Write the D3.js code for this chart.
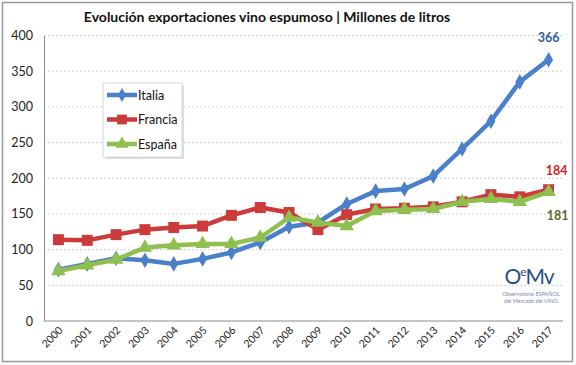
<!DOCTYPE html>
<html><head><meta charset="utf-8">
<script src="https://cdn.jsdelivr.net/npm/d3@7"></script>
<style>body{margin:0;background:#fff}svg{display:block}</style>
</head><body>
<svg id="c" width="576" height="365"></svg>
<script>
const years = ["2000","2001","2002","2003","2004","2005","2006","2007","2008","2009","2010","2011","2012","2013","2014","2015","2016","2017"];
const italia  = [72,80,88,85,80,87,96,110,132,138,164,182,185,203,241,280,335,366];
const francia = [114,113,121,128,131,133,148,159,152,128,149,157,158,160,167,177,174,184];
const espana  = [70,78,86,103,106,108,108,117,145,138,133,154,156,157,167,171,167,181];
const yTicks = [0,50,100,150,200,250,300,350,400];
const title = "Evolución exportaciones vino espumoso | Millones de litros";

const svg = d3.select("#c");
const font = "Lato, 'Open Sans', sans-serif";
const L = 44, R = 563, T = 35.5, B = 321;

svg.append("rect").attr("x",2.5).attr("y",2.5).attr("width",570).attr("height",359)
  .attr("fill","#fff").attr("stroke","#9a9a9a").attr("stroke-width",1.5);

const x = d3.scaleBand().domain(years).range([L,R]);
const y = d3.scaleLinear().domain([0,400]).range([B,T]);
const cx = d => x(d) + x.bandwidth()/2;

// grid
svg.append("g").selectAll("line").data(yTicks.filter(d=>d>0)).join("line")
  .attr("x1",L).attr("x2",R).attr("y1",d=>y(d)).attr("y2",d=>y(d))
  .attr("stroke","#d0d0d0").attr("stroke-dasharray","2,2").attr("stroke-width",1);

// axes
const ya = svg.append("g").attr("transform",`translate(${L},0)`)
  .call(d3.axisLeft(y).tickValues(yTicks).tickSize(0).tickPadding(11));
ya.select(".domain").attr("stroke","#8c8c8c");
ya.selectAll("text").attr("font-family",font).attr("font-size",12.5).attr("fill","#222");

const xa = svg.append("g").attr("transform",`translate(0,${B})`)
  .call(d3.axisBottom(x).tickSize(0).tickPadding(0));
xa.select(".domain").attr("stroke","#8c8c8c").attr("d",`M${L},0H${R}`);
xa.selectAll("text").attr("font-family",font).attr("font-size",10.5).attr("fill","#222")
  .attr("text-anchor","end").attr("dy","0")
  .attr("transform","translate(5,10) rotate(-45)");

// title
svg.append("text").attr("x",267).attr("y",22).attr("text-anchor","middle")
  .attr("font-family",font).attr("font-weight","bold").attr("font-size",14).attr("fill","#111").text(title);

const series = [
  {name:"Italia", vals:italia, color:"#4a7fc9", mark:"diamond"},
  {name:"Francia", vals:francia, color:"#cc3b3b", mark:"square"},
  {name:"España", vals:espana, color:"#8fbf4f", mark:"triangle"}
];
const sym = {diamond:d3.symbolDiamond, square:d3.symbolSquare, triangle:d3.symbolTriangle};
const size = {diamond:70, square:120, triangle:90};
const line = d3.line().x((d,i)=>cx(years[i])).y(d=>y(d));

series.forEach(s=>{
  const g = svg.append("g");
  g.append("path").attr("d",line(s.vals)).attr("fill","none").attr("stroke",s.color)
    .attr("stroke-width",4.5).attr("stroke-linejoin","round");
  g.selectAll("path.m").data(s.vals).join("path").attr("class","m")
    .attr("transform",(d,i)=>`translate(${cx(years[i])},${y(d)})`)
    .attr("d",d3.symbol().type(sym[s.mark]).size(size[s.mark])).attr("fill",s.color);
});

// end labels
const last = years[years.length-1];
svg.append("text").attr("x",cx(last)).attr("y",y(italia[17])-18).attr("text-anchor","middle")
  .attr("font-family",font).attr("font-weight","bold").attr("font-size",12.5).attr("fill","#2f5d9b").text(italia[17]);
svg.append("text").attr("x",cx(last)+8).attr("y",y(francia[17])-15).attr("text-anchor","middle")
  .attr("font-family",font).attr("font-weight","bold").attr("font-size",12.5).attr("fill","#d01f1f").text(francia[17]);
svg.append("text").attr("x",cx(last)+9).attr("y",y(espana[17])+28).attr("text-anchor","middle")
  .attr("font-family",font).attr("font-weight","bold").attr("font-size",12.5).attr("fill","#5a6b2a").text(espana[17]);

// legend
const lg = svg.append("g");
lg.append("rect").attr("x",105).attr("y",85).attr("width",79).attr("height",74).attr("fill","#bbb").attr("opacity",0.5);
lg.append("rect").attr("x",103).attr("y",83).attr("width",79).attr("height",74).attr("fill","#fff").attr("stroke","#d8d8d8");
series.forEach((s,i)=>{
  const yy = 95 + i*24.5;
  lg.append("line").attr("x1",107).attr("x2",137).attr("y1",yy).attr("y2",yy).attr("stroke",s.color).attr("stroke-width",4.5);
  lg.append("path").attr("transform",`translate(122,${yy})`)
    .attr("d",d3.symbol().type(sym[s.mark]).size(size[s.mark]*0.8)).attr("fill",s.color);
  lg.append("text").attr("x",138).attr("y",yy+4.5).attr("font-family",font).attr("font-size",12.5).attr("fill","#111").text(s.name);
});

// logo
const lo = svg.append("g");
const big = lo.append("text").attr("x",529).attr("y",284).attr("text-anchor","middle").attr("font-family",font)
  .attr("font-size",21).attr("fill","#2a4f86").attr("letter-spacing","-1");
big.append("tspan").text("O");
big.append("tspan").attr("font-size",12).attr("dy",-8).text("e");
big.append("tspan").attr("dy",8).text("Mv");
lo.append("text").attr("x",531).attr("y",296).attr("text-anchor","middle").attr("font-family",font)
  .attr("font-size",5.5).attr("fill","#7a8aa8").text("Observatorio ESPAÑOL");
lo.append("text").attr("x",531).attr("y",302.5).attr("text-anchor","middle").attr("font-family",font)
  .attr("font-size",5.5).attr("fill","#7a8aa8").text("del Mercado del VINO");
</script>
</body></html>
